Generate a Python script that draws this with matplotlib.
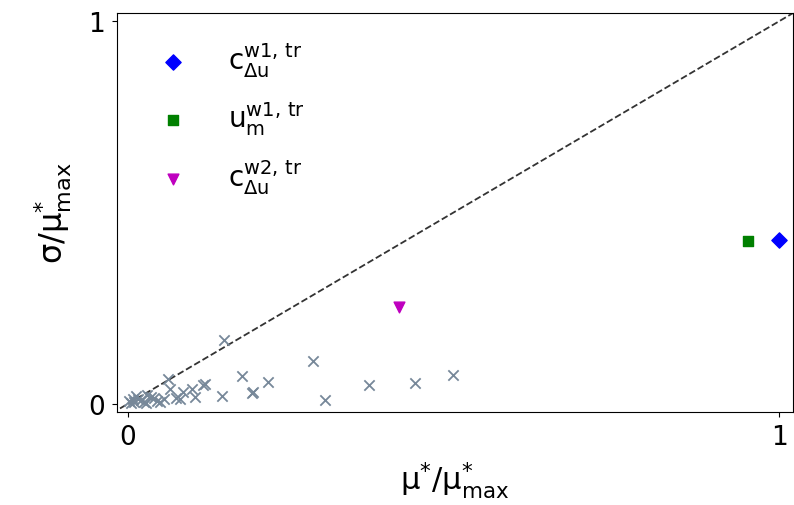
import matplotlib
matplotlib.use("Agg")
import matplotlib.pyplot as plt

# gray crosses (other features)
cross_x = [0.147, 0.284, 0.175, 0.215, 0.190, 0.192, 0.303, 0.370, 0.441, 0.499,
           0.144, 0.118, 0.115, 0.099, 0.062, 0.080, 0.074, 0.040, 0.103, 0.065,
           0.030, 0.045, 0.020, 0.010, 0.005, 0.015, 0.025, 0.035, 0.002, 0.055,
           0.012, 0.028, 0.008, 0.050, 0.085]
cross_y = [0.167, 0.112, 0.073, 0.057, 0.029, 0.031, 0.010, 0.050, 0.055, 0.076,
           0.020, 0.052, 0.050, 0.039, 0.065, 0.012, 0.015, 0.016, 0.017, 0.040,
           0.022, 0.008, 0.010, 0.004, 0.002, 0.014, 0.006, 0.018, 0.008, 0.012,
           0.020, 0.003, 0.012, 0.005, 0.030]

# highlighted features
hl_labels = [r'$\mathregular{c^{w1,\,tr}_{\Delta u}}$',
             r'$\mathregular{u^{w1,\,tr}_{m}}$',
             r'$\mathregular{c^{w2,\,tr}_{\Delta u}}$']
hl_x = [1.0, 0.952, 0.416]
hl_y = [0.428, 0.426, 0.253]
hl_markers = ['D', 's', 'v']
hl_colors = ['blue', 'green', 'm']

fig = plt.figure(figsize=(7.94, 5.06), dpi=100)
ax = fig.add_axes([0.147, 0.184, 0.852, 0.788])

ax.scatter(cross_x, cross_y, marker='x', color='#778899', s=55, linewidths=1.3, zorder=2)
for x, y, m, c, lab in zip(hl_x, hl_y, hl_markers, hl_colors, hl_labels):
    ax.scatter([x], [y], marker=m, color=c, s=60, label=lab, zorder=3)

ax.plot([-0.05, 1.05], [-0.05, 1.05], linestyle='--', color='#333333', linewidth=1.3, zorder=1)

ax.set_xlim(-0.017, 1.0215)
ax.set_ylim(-0.021, 1.021)
ax.set_xticks([0, 1])
ax.set_yticks([0, 1])
ax.set_xticklabels(['0', '1'])
ax.set_yticklabels(['0', '1'])
ax.tick_params(labelsize=19, pad=5)

ax.set_xlabel(r'$\mathregular{\mu^{*}/\mu^{*}_{max}}$', fontsize=22, labelpad=7)
ax.set_ylabel(r'$\mathregular{\sigma/\mu^{*}_{max}}$', fontsize=23, labelpad=10)

ax.legend(loc='upper left', frameon=False, fontsize=20, labelspacing=0.72,
          handletextpad=1.0, borderaxespad=0.0, bbox_to_anchor=(0.025, 0.96))

fig.savefig('out.png', dpi=100)
